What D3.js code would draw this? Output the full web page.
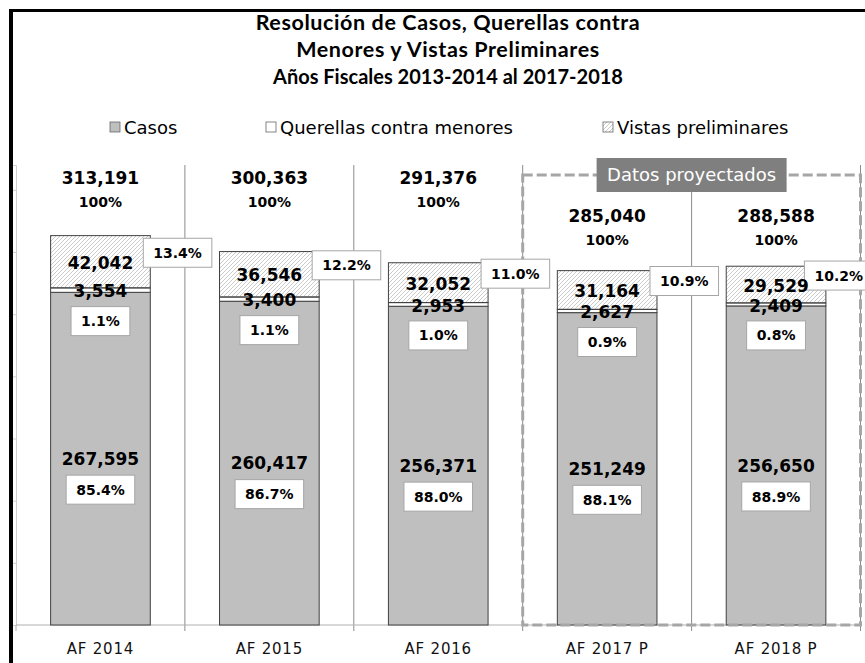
<!DOCTYPE html>
<html>
<head>
<meta charset="utf-8">
<script src="https://cdn.jsdelivr.net/npm/d3@7"></script>
<style>
  body { margin: 0; background: #fff; }
  svg { display: block; }
</style>
</head>
<body>
<script>
// data
var categories = ["AF 2014", "AF 2015", "AF 2016", "AF 2017 P", "AF 2018 P"];
var projected = [false, false, false, true, true];
var casos = [267595, 260417, 256371, 251249, 256650];
var querellas = [3554, 3400, 2953, 2627, 2409];
var vistas = [42042, 36546, 32052, 31164, 29529];
var yTicks = [0, 50000, 100000, 150000, 200000, 250000, 300000, 350000];
var titleLines = ["Resolución de Casos, Querellas contra", "Menores y Vistas Preliminares", "Años Fiscales 2013-2014 al 2017-2018"];
var legendNames = ["Casos", "Querellas contra menores", "Vistas preliminares"];

var W = 865, H = 663;
var numFont = "'DejaVu Sans', sans-serif";
var fmt = d3.format(",");
var pct = function(v, t) { return (v / t * 100).toFixed(1) + "%"; };

var rows = categories.map(function(c, i) {
  return { cat: c, proj: projected[i], casos: casos[i], querellas: querellas[i], vistas: vistas[i],
           total: casos[i] + querellas[i] + vistas[i] };
});

var svg = d3.select("body").append("svg")
    .attr("width", W)
    .attr("height", H);

// hatch for vistas preliminares
var defs = svg.append("defs");
defs.append("pattern")
    .attr("id", "hatch")
    .attr("patternUnits", "userSpaceOnUse")
    .attr("width", 4).attr("height", 4)
  .append("path")
    .attr("d", "M-1,1 l2,-2 M0,4 l4,-4 M3,5 l2,-2")
    .attr("stroke", "#a8a8a8")
    .attr("stroke-width", 0.6);

// scales
var x = d3.scaleBand().domain(categories).range([16, 860.5]).padding(0);
var y = d3.scaleLinear().domain([0, 370000]).range([625, 165]);
var barW = x.bandwidth() * 0.59;
var cx = function(d) { return x(d.cat) + x.bandwidth() / 2; };

// title
svg.append("g").selectAll("text")
  .data(titleLines)
  .enter().append("text")
    .attr("x", 448)
    .attr("y", function(d, i) { return 30 + i * 27; })
    .attr("text-anchor", "middle")
    .style("font-family", "Lato, sans-serif")
    .style("font-weight", "bold")
    .style("font-size", function(d, i) { return i < 2 ? "21.5px" : "20px"; })
    .style("letter-spacing", function(d, i) { return i < 2 ? "0.6px" : "0px"; })
    .text(function(d) { return d; });

// legend
var legendX = [110, 266, 603];
var leg = svg.append("g").selectAll("g")
  .data(legendNames)
  .enter().append("g")
    .attr("transform", function(d, i) { return "translate(" + legendX[i] + ",122)"; });
leg.append("rect")
    .attr("width", 10).attr("height", 10)
    .attr("fill", function(d, i) { return i == 0 ? "#bfbfbf" : (i == 1 ? "#fff" : "url(#hatch)"); })
    .attr("stroke", "#666")
    .attr("stroke-width", 0.8);
leg.append("text")
    .attr("x", 14).attr("y", 11.5)
    .style("font-family", numFont)
    .style("font-size", "18px")
    .text(function(d) { return d; });

// y axis (no labels)
var yAxis = d3.axisLeft(y).tickValues(yTicks).tickSize(3).tickFormat("");
var ya = svg.append("g")
    .attr("transform", "translate(16,0)")
    .call(yAxis);
ya.select(".domain").attr("stroke", "#d0d0d0");
ya.selectAll(".tick line").attr("stroke", "#d0d0d0");

// category separators
var bounds = categories.map(function(c) { return x(c) + x.bandwidth(); });
svg.append("g").selectAll("line")
  .data(bounds)
  .enter().append("line")
    .attr("x1", function(d) { return d; }).attr("x2", function(d) { return d; })
    .attr("y1", 165).attr("y2", 631)
    .attr("stroke", "#8c8c8c")
    .attr("stroke-width", 1);

// baseline
svg.append("line")
    .attr("x1", 16).attr("x2", 860.5)
    .attr("y1", y(0)).attr("y2", y(0))
    .attr("stroke", "#b0b0b0");
svg.append("line")
    .attr("x1", 16).attr("x2", 16)
    .attr("y1", y(0)).attr("y2", 631)
    .attr("stroke", "#b0b0b0");

// category labels
svg.append("g").selectAll("text")
  .data(rows)
  .enter().append("text")
    .attr("x", cx)
    .attr("y", 654)
    .attr("text-anchor", "middle")
    .style("font-family", numFont)
    .style("font-size", "15px")
    .style("letter-spacing", "0.8px")
    .style("fill", "#111")
    .text(function(d) { return d.cat; });

// stacked bars
var stack = d3.stack().keys(["casos", "querellas", "vistas"])(rows);
var fills = { casos: "#bfbfbf", querellas: "#ffffff", vistas: "url(#hatch)" };

svg.append("g").selectAll("g")
  .data(stack)
  .enter().append("g")
    .attr("fill", function(s) { return fills[s.key]; })
  .selectAll("rect")
  .data(function(s) { return s; })
  .enter().append("rect")
    .attr("x", function(d) { return cx(d.data) - barW / 2; })
    .attr("y", function(d) { return y(d[1]); })
    .attr("width", barW)
    .attr("height", function(d) { return y(d[0]) - y(d[1]); })
    .attr("stroke", "#404040")
    .attr("stroke-width", 1);

// dashed box for projected years
var pFirst = rows.filter(function(d) { return d.proj; })[0];
var px0 = x(pFirst.cat), px1 = 860.5;
svg.append("rect")
    .attr("x", px0).attr("y", 175)
    .attr("width", px1 - px0).attr("height", y(0) - 175)
    .attr("fill", "none")
    .attr("stroke", "#a6a6a6")
    .attr("stroke-width", 3)
    .attr("stroke-dasharray", "10,4");

// label helpers
var labels = svg.append("g");
function boxLabel(txt, xc, yc, anchorLeft) {
  var g = labels.append("g");
  var t = g.append("text")
      .attr("y", yc)
      .attr("dy", "0.36em")
      .attr("text-anchor", "middle")
      .style("font-family", numFont)
      .style("font-weight", "bold")
      .style("font-size", "14px")
      .text(txt);
  var w = t.node().getComputedTextLength() + 20;
  var left = anchorLeft ? Math.min(xc, W + 8 - w) : xc - w / 2;
  t.attr("x", left + w / 2);
  g.insert("rect", "text")
      .attr("x", left).attr("y", yc - 14.5)
      .attr("width", w).attr("height", 29)
      .attr("fill", "#fff")
      .attr("stroke", "#a6a6a6");
}
function valueLabel(txt, xc, yc, size) {
  labels.append("text")
      .attr("x", xc).attr("y", yc)
      .attr("dy", "0.36em")
      .attr("text-anchor", "middle")
      .style("font-family", numFont)
      .style("font-weight", "bold")
      .style("font-size", size)
      .text(txt);
}

rows.forEach(function(d) {
  var c = cx(d);
  var q0 = d.casos, q1 = d.casos + d.querellas;
  var casosMid = (y(0) + y(q0)) / 2;
  var querMid = (y(q0) + y(q1)) / 2 + 1;
  var vistMid = (y(q1) + y(d.total)) / 2;

  // totals above the bars
  var ty = d.proj ? 216 : 178;
  valueLabel(fmt(d.total), c, ty, "17px");
  valueLabel("100%", c, ty + 24, "14px");

  boxLabel(pct(d.vistas, d.total), c + barW / 2 - 7, vistMid - 9, true);
  valueLabel(fmt(d.vistas), c, vistMid + 1, "17px");

  valueLabel(fmt(d.querellas), c, querMid, "17px");
  boxLabel(pct(d.querellas, d.total), c, querMid + 30, false);

  valueLabel(fmt(d.casos), c, casosMid, "17px");
  boxLabel(pct(d.casos, d.total), c, casosMid + 31, false);
});

// "Datos proyectados" tag on top of the dashed box
var tagX = x(categories[4]);
svg.append("rect")
    .attr("x", tagX - 95).attr("y", 158)
    .attr("width", 190).attr("height", 34)
    .attr("fill", "#7f7f7f");
svg.append("text")
    .attr("x", tagX).attr("y", 175)
    .attr("dy", "0.36em")
    .attr("text-anchor", "middle")
    .style("font-family", numFont)
    .style("font-size", "18px")
    .style("fill", "#fff")
    .text("Datos proyectados");

// outer frame (cropped at right and bottom)
svg.append("line")
    .attr("x1", 9).attr("x2", W)
    .attr("y1", 10.5).attr("y2", 10.5)
    .attr("stroke", "#000").attr("stroke-width", 3);
svg.append("line")
    .attr("x1", 11).attr("x2", 11)
    .attr("y1", 9).attr("y2", H)
    .attr("stroke", "#000").attr("stroke-width", 4);
</script>
</body>
</html>
